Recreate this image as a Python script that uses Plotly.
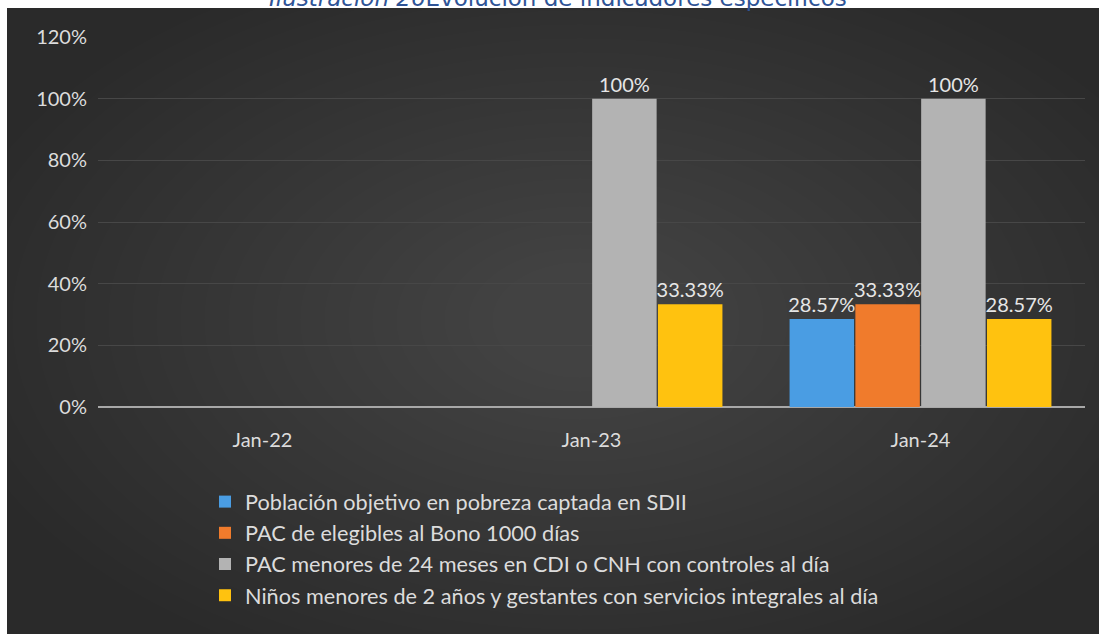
import plotly.graph_objects as go

# Periods on the x axis
categories = ["Jan-22", "Jan-23", "Jan-24"]

# Indicator values (percent); None = no data for that period
poblacion_sdii = [None, None, 28.57]
pac_bono = [None, None, 33.33]
pac_menores_24 = [None, 100, 100]
ninos_servicios = [None, 33.33, 28.57]

series_names = [
    "Población objetivo en pobreza captada en SDII",
    "PAC de elegibles al Bono 1000 días",
    "PAC menores de 24 meses en CDI o CNH con controles al día",
    "Niños menores de 2 años y gestantes con servicios integrales al día",
]
series_values = [poblacion_sdii, pac_bono, pac_menores_24, ninos_servicios]
series_colors = ["#4a9de3", "#f07b2c", "#b3b3b3", "#ffc20f"]

y_ticks = [0, 20, 40, 60, 80, 100, 120]

W, H = 1099, 634
M_L, M_R, M_T, M_B = 98, 14, 37, 227
PW, PH = W - M_L - M_R, H - M_T - M_B


def px_x(x):
    return (x - M_L) / PW


def px_y(y):
    return (H - M_B - y) / PH


def fmt(v):
    return "" if v is None else f"{v:g}%"


FONT = "Lato"
TXT = "#dcdcdc"

fig = go.Figure()
for i, (name, vals, col) in enumerate(zip(series_names, series_values, series_colors)):
    fig.add_trace(go.Bar(
        x=categories,
        y=vals,
        name=name,
        legendgroup=f"g{i}",
        marker=dict(color=col, line=dict(width=0)),
        text=[fmt(v) for v in vals],
        textposition="outside",
        textfont=dict(family=FONT, size=20, color="#e6e6e6"),
        constraintext="none",
        cliponaxis=False,
        hoverinfo="x+y+name",
    ))

shapes = []
# dark chart panel
shapes.append(dict(
    type="rect", xref="paper", yref="paper",
    x0=px_x(7), x1=px_x(W + 5), y0=px_y(H + 5), y1=px_y(8),
    fillcolor="#2a2a2a", line=dict(width=0), layer="below",
))
# soft radial glow in the middle of the panel
cx, cy = 580, 320
for k in range(24):
    rx = 640 - k * 24
    ry = 380 - k * 14
    shapes.append(dict(
        type="circle", xref="paper", yref="paper",
        x0=px_x(cx - rx), x1=px_x(cx + rx),
        y0=px_y(cy + ry), y1=px_y(cy - ry),
        fillcolor="rgba(255,255,255,0.0075)", line=dict(width=0), layer="below",
    ))

fig.update_layout(
    width=W, height=H,
    margin=dict(l=M_L, r=M_R, t=M_T, b=M_B, pad=0, autoexpand=False),
    paper_bgcolor="white",
    plot_bgcolor="rgba(0,0,0,0)",
    barmode="group",
    bargap=0.2,
    bargroupgap=0.02,
    shapes=shapes,
    font=dict(family=FONT, color=TXT),
    showlegend=True,
    legend=dict(
        x=px_x(205), y=px_y(481), xanchor="left", yanchor="top",
        orientation="v",
        font=dict(family=FONT, size=21.7, color=TXT),
        bgcolor="rgba(0,0,0,0)",
        tracegroupgap=0,
        itemclick=False, itemdoubleclick=False,
    ),
    annotations=[dict(
        xref="paper", yref="paper",
        x=px_x(558), y=px_y(-2),
        xanchor="center", yanchor="middle",
        text="<i>Ilustración 26</i>Evolución de indicadores específicos",
        showarrow=False,
        font=dict(family="DejaVu Sans", size=23, color="#2f5496"),
    )],
)

fig.update_xaxes(
    type="category",
    automargin=False,
    showgrid=False,
    showline=False,
    ticks="",
    tickfont=dict(family=FONT, size=20, color=TXT),
    ticklabelstandoff=19,
    zeroline=False,
)
fig.update_yaxes(
    range=[0, 120],
    automargin=False,
    tickvals=y_ticks,
    ticktext=[f"{t}%" for t in y_ticks],
    showgrid=True,
    gridcolor="#474747",
    gridwidth=1,
    zeroline=True,
    zerolinecolor="#a8a8a8",
    zerolinewidth=2,
    ticks="",
    tickfont=dict(family=FONT, size=20, color=TXT),
    ticklabelstandoff=10,
)

fig.write_html("out.html")
